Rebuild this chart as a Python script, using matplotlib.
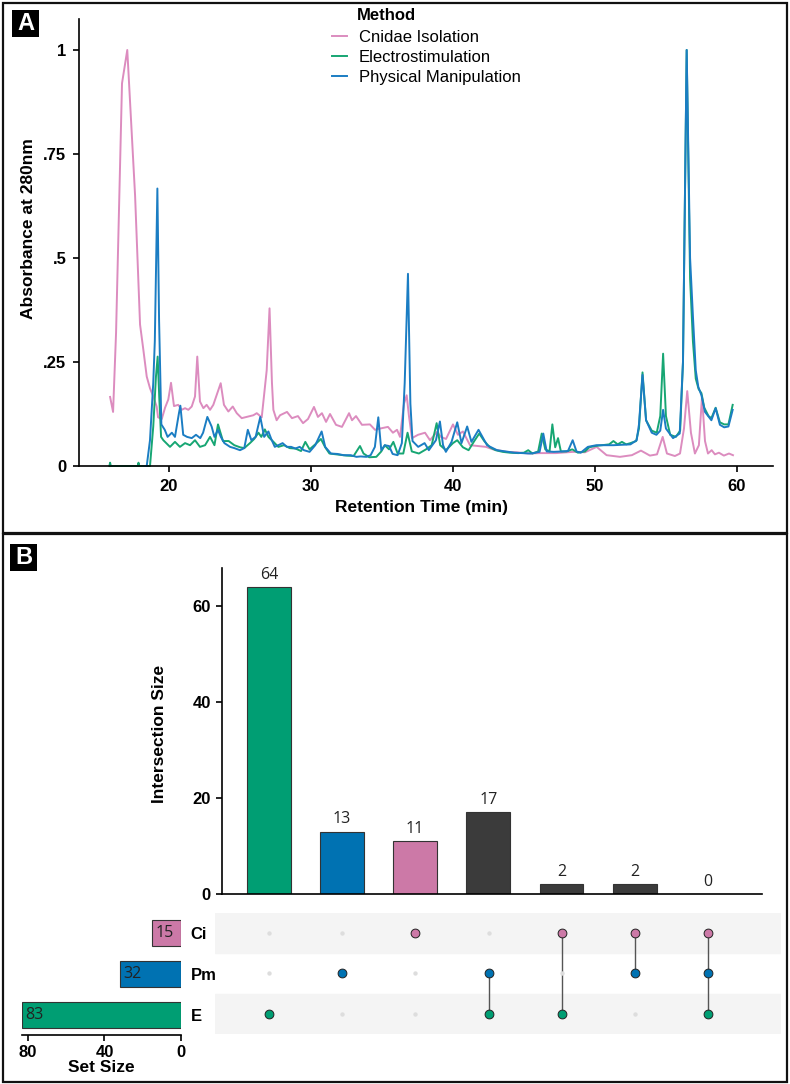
import numpy as np
import matplotlib.pyplot as plt
from matplotlib.patches import Rectangle

plt.rcParams['font.family'] = ['Liberation Sans', 'DejaVu Sans']

# --- Panel A: chromatogram, (retention time, absorbance) ---
ci_t = [15.85, 16.06, 16.27, 16.41, 16.69, 17.06, 17.61, 17.96, 18.19, 18.43, 18.66, 18.89,
        19.13, 19.23, 19.49, 19.72, 19.95, 20.14, 20.35, 20.65, 20.89, 21.13, 21.36, 21.60,
        21.83, 21.99, 22.18, 22.42, 22.65, 22.89, 23.12, 23.40, 23.64, 23.87, 24.18, 24.49,
        24.77, 25.12, 25.47, 25.94, 26.18, 26.53, 26.88, 27.08, 27.25, 27.35, 27.58, 27.82,
        28.31, 28.66, 29.08, 29.44, 29.79, 30.21, 30.49, 30.77, 31.06, 31.34, 31.76, 32.18,
        32.68, 32.89, 33.17, 33.59, 34.15, 34.51, 34.86, 35.42, 35.77, 36.06, 36.27, 36.55,
        36.74, 36.90, 37.11, 37.54, 38.03, 38.38, 38.87, 39.15, 39.51, 40.00, 40.35, 40.70,
        41.20, 41.76, 42.32, 42.82, 43.78, 44.49, 45.28, 46.13, 47.25, 48.45, 49.30, 50.12,
        50.82, 51.76, 52.60, 53.24, 53.87, 54.37, 54.77, 55.07, 55.63, 55.99, 56.27, 56.50,
        56.76, 57.04, 57.32, 57.54, 57.75, 57.96, 58.22, 58.45, 58.73, 59.08, 59.44, 59.72]
ci_a = [0.166, 0.130, 0.320, 0.520, 0.920, 1.000, 0.650, 0.340, 0.280, 0.215, 0.187, 0.167,
        0.143, 0.117, 0.113, 0.140, 0.160, 0.200, 0.144, 0.147, 0.135, 0.139, 0.135, 0.143,
        0.167, 0.263, 0.155, 0.139, 0.147, 0.135, 0.147, 0.175, 0.199, 0.147, 0.131, 0.143,
        0.127, 0.115, 0.118, 0.122, 0.127, 0.117, 0.230, 0.379, 0.200, 0.135, 0.110, 0.122,
        0.130, 0.115, 0.120, 0.103, 0.113, 0.142, 0.118, 0.127, 0.106, 0.125, 0.099, 0.094,
        0.127, 0.110, 0.120, 0.099, 0.100, 0.087, 0.090, 0.094, 0.080, 0.087, 0.070, 0.150,
        0.170, 0.120, 0.067, 0.075, 0.080, 0.062, 0.082, 0.070, 0.065, 0.100, 0.075, 0.083,
        0.050, 0.048, 0.046, 0.040, 0.034, 0.033, 0.030, 0.031, 0.031, 0.034, 0.033, 0.046,
        0.026, 0.022, 0.026, 0.037, 0.025, 0.028, 0.070, 0.030, 0.024, 0.030, 0.090, 0.180,
        0.080, 0.030, 0.050, 0.167, 0.060, 0.030, 0.038, 0.028, 0.032, 0.025, 0.030, 0.026]

e_t = [15.80, 15.85, 15.90, 17.80, 17.85, 17.90, 18.55, 18.66, 18.89, 19.08, 19.20, 19.31,
       19.44, 19.60, 20.07, 20.42, 20.77, 21.13, 21.48, 21.83, 22.18, 22.54, 22.89, 23.20,
       23.45, 23.80, 24.20, 24.60, 25.00, 25.30, 25.70, 26.00, 26.30, 26.50, 26.75, 27.00,
       27.30, 27.70, 28.10, 28.50, 28.90, 29.30, 29.60, 29.90, 30.30, 30.70, 31.00, 31.30,
       31.80, 32.50, 33.00, 33.45, 33.70, 34.10, 34.60, 34.95, 35.20, 35.50, 35.80, 36.10,
       36.50, 36.80, 37.10, 37.60, 38.10, 38.50, 38.85, 39.10, 39.50, 40.00, 40.30, 40.70,
       41.10, 41.50, 41.85, 42.20, 42.60, 43.00, 43.50, 44.00, 44.60, 45.00, 45.30, 45.60,
       46.00, 46.25, 46.50, 46.80, 47.00, 47.20, 47.40, 47.60, 48.00, 48.40, 48.80, 49.30,
       49.60, 50.00, 50.50, 51.00, 51.30, 51.60, 51.90, 52.20, 52.50, 52.90, 53.10, 53.35,
       53.60, 54.00, 54.35, 54.60, 54.80, 55.00, 55.30, 55.70, 56.00, 56.20, 56.46, 56.70,
       56.90, 57.10, 57.30, 57.50, 57.70, 58.00, 58.20, 58.50, 58.80, 59.10, 59.40, 59.70]
e_a = [0.000, 0.008, 0.000, 0.000, 0.008, 0.000, 0.000, 0.000, 0.095, 0.215, 0.263, 0.167,
       0.070, 0.062, 0.046, 0.058, 0.046, 0.055, 0.050, 0.062, 0.046, 0.050, 0.070, 0.050,
       0.100, 0.060, 0.060, 0.050, 0.045, 0.043, 0.055, 0.065, 0.080, 0.070, 0.088, 0.070,
       0.060, 0.046, 0.050, 0.043, 0.042, 0.036, 0.058, 0.040, 0.052, 0.065, 0.045, 0.030,
       0.028, 0.025, 0.024, 0.048, 0.030, 0.021, 0.022, 0.035, 0.050, 0.040, 0.058, 0.030,
       0.030, 0.080, 0.035, 0.030, 0.040, 0.050, 0.103, 0.050, 0.038, 0.055, 0.062, 0.045,
       0.038, 0.060, 0.078, 0.060, 0.045, 0.038, 0.034, 0.032, 0.031, 0.032, 0.038, 0.030,
       0.035, 0.078, 0.040, 0.035, 0.100, 0.045, 0.067, 0.035, 0.035, 0.040, 0.032, 0.035,
       0.045, 0.048, 0.050, 0.052, 0.060, 0.052, 0.058, 0.052, 0.055, 0.060, 0.090, 0.225,
       0.110, 0.085, 0.080, 0.120, 0.270, 0.120, 0.075, 0.070, 0.085, 0.250, 1.000, 0.450,
       0.300, 0.210, 0.185, 0.175, 0.140, 0.120, 0.115, 0.140, 0.105, 0.100, 0.100, 0.147]

pm_t = [18.30, 18.43, 18.66, 18.89, 19.00, 19.18, 19.30, 19.46, 19.70, 19.90, 20.20, 20.42,
        20.70, 20.80, 21.00, 21.27, 21.60, 21.90, 22.20, 22.40, 22.70, 23.00, 23.20, 23.45,
        23.65, 23.90, 24.30, 24.60, 25.00, 25.30, 25.55, 25.80, 26.10, 26.43, 26.70, 27.00,
        27.20, 27.45, 27.70, 28.00, 28.30, 28.60, 28.90, 29.20, 29.50, 29.90, 30.30, 30.75,
        31.00, 31.40, 31.85, 32.30, 32.80, 33.20, 33.50, 33.90, 34.20, 34.50, 34.74, 34.95,
        35.20, 35.50, 35.75, 36.10, 36.40, 36.60, 36.83, 37.00, 37.15, 37.55, 38.00, 38.30,
        38.80, 39.08, 39.30, 39.50, 39.90, 40.30, 40.60, 41.00, 41.30, 41.80, 42.40, 43.10,
        44.30, 45.50, 46.10, 46.36, 46.60, 47.10, 47.70, 48.10, 48.43, 48.70, 49.00, 49.50,
        50.10, 51.30, 52.50, 52.94, 53.10, 53.35, 53.60, 54.00, 54.33, 54.60, 54.80, 55.00,
        55.50, 55.97, 56.20, 56.46, 56.70, 56.90, 57.10, 57.28, 57.50, 57.75, 58.20, 58.50,
        58.80, 59.10, 59.40, 59.70]
pm_a = [0.000, 0.000, 0.062, 0.200, 0.300, 0.667, 0.350, 0.100, 0.087, 0.070, 0.080, 0.070,
        0.127, 0.145, 0.075, 0.070, 0.067, 0.075, 0.067, 0.080, 0.118, 0.095, 0.070, 0.087,
        0.070, 0.055, 0.046, 0.043, 0.038, 0.043, 0.087, 0.062, 0.070, 0.118, 0.070, 0.083,
        0.065, 0.046, 0.050, 0.055, 0.046, 0.046, 0.042, 0.046, 0.038, 0.034, 0.050, 0.083,
        0.046, 0.030, 0.029, 0.026, 0.026, 0.022, 0.023, 0.022, 0.026, 0.046, 0.117, 0.038,
        0.050, 0.048, 0.029, 0.026, 0.055, 0.200, 0.462, 0.150, 0.060, 0.046, 0.055, 0.038,
        0.062, 0.107, 0.050, 0.034, 0.058, 0.105, 0.055, 0.095, 0.058, 0.087, 0.050, 0.038,
        0.032, 0.030, 0.034, 0.078, 0.035, 0.034, 0.035, 0.036, 0.062, 0.035, 0.032, 0.046,
        0.050, 0.050, 0.052, 0.062, 0.100, 0.219, 0.110, 0.080, 0.075, 0.085, 0.135, 0.090,
        0.067, 0.078, 0.250, 1.000, 0.500, 0.360, 0.230, 0.190, 0.170, 0.130, 0.110, 0.139,
        0.099, 0.093, 0.095, 0.135]

methods = ['Cnidae Isolation', 'Electrostimulation', 'Physical Manipulation']
line_colors = ['#DC8CBF', '#17A673', '#1B7DC3']

# --- Panel B: UpSet plot ---
set_names = ['E', 'Pm', 'Ci']          # bottom to top
set_sizes = [83, 32, 15]
set_colors = ['#009E73', '#0072B2', '#CC79A7']
inter_sizes = [64, 13, 11, 17, 2, 2, 0]
inter_sets = [['E'], ['Pm'], ['Ci'], ['Pm', 'E'], ['Ci', 'E'], ['Ci', 'Pm'], ['Ci', 'Pm', 'E']]
multi_color = '#3B3B3B'

W, H = 790, 1084
fig = plt.figure(figsize=(W / 100, H / 100), dpi=100)


def box(l, t, r, b):
    return [l / W, 1 - b / H, (r - l) / W, (b - t) / H]


# ---------------- Panel A ----------------
axA = fig.add_axes(box(79, 19, 773, 466))
for t, a, lab, col in zip([ci_t, e_t, pm_t], [ci_a, e_a, pm_a], methods, line_colors):
    axA.plot(t, a, color=col, lw=1.4, label=lab, clip_on=False)
axA.set_xlim(13.66, 62.54)
axA.set_ylim(0, 1.0745)
axA.spines[['top', 'right']].set_visible(False)
for s in ['left', 'bottom']:
    axA.spines[s].set_linewidth(1.2)
axA.set_xticks([20, 30, 40, 50, 60])
axA.set_yticks([0, 0.25, 0.5, 0.75, 1])
axA.set_yticklabels(['0', '.25', '.5', '.75', '1'])
axA.tick_params(length=4, width=1.2, labelsize=12, pad=5)
for lbl in axA.get_xticklabels() + axA.get_yticklabels():
    lbl.set_fontweight('bold')
axA.set_xlabel('Retention Time (min)', fontsize=12.5, fontweight='bold')
axA.xaxis.set_label_coords(0.494, -0.076)
axA.set_ylabel('Absorbance at 280nm', fontsize=12.5, fontweight='bold')
axA.yaxis.set_label_coords(-0.062, 0.532)
axA.legend(loc='upper left', bbox_to_anchor=(332 / W, 1 - 30 / H),
           bbox_transform=fig.transFigure, frameon=False, fontsize=12,
           handlelength=0.9, handletextpad=0.7,
           labelspacing=0.3, borderpad=0, borderaxespad=0)
fig.text(357 / W, 1 - 16 / H, 'Method', fontsize=12, fontweight='bold', ha='left', va='center')

# ---------------- Panel B ----------------
x = np.arange(len(inter_sizes))
bar_cols = []
for s in inter_sets:
    bar_cols.append(set_colors[set_names.index(s[0])] if len(s) == 1 else multi_color)

axB = fig.add_axes(box(222, 568, 762, 894))
axB.bar(x, inter_sizes, width=0.6, color=bar_cols, edgecolor='#333333', lw=0.8)
for xi, v in zip(x, inter_sizes):
    axB.annotate(str(v), (xi, v), xytext=(0, 3), textcoords='offset points',
                 ha='center', va='bottom', fontsize=11.5, family='Open Sans', color='#222222')
axB.set_xlim(-0.64, 6.74)
axB.set_ylim(0, 67.9)
axB.spines[['top', 'right']].set_visible(False)
for s in ['left', 'bottom']:
    axB.spines[s].set_linewidth(1.2)
axB.set_xticks([])
axB.set_yticks([0, 20, 40, 60])
axB.tick_params(axis='y', length=4, width=1.2, labelsize=12, pad=4)
for lbl in axB.get_yticklabels():
    lbl.set_fontweight('bold')
axB.set_ylabel('Intersection Size', fontsize=12.5, fontweight='bold')
axB.yaxis.set_label_coords(-0.102, 0.49)

# matrix
axM = fig.add_axes(box(215, 913, 781, 1034))
axM.set_xlim(-0.738, 6.997)
axM.set_ylim(-0.5, 2.5)
axM.axis('off')
for r in range(len(set_names)):
    if r % 2 == 0:
        axM.axhspan(r - 0.5, r + 0.5, color='#F4F4F4', zorder=0)
for xi, s in zip(x, inter_sets):
    rows = [set_names.index(n) for n in s]
    if len(rows) > 1:
        axM.plot([xi, xi], [min(rows), max(rows)], color='#555555', lw=1, zorder=1)
    for r, n in enumerate(set_names):
        if n in s:
            axM.scatter(xi, r, s=40, color=set_colors[r], edgecolor='#222222', lw=0.7, zorder=3)
        else:
            axM.scatter(xi, r, s=10, color='#DDDDDD', lw=0, zorder=2)

# set sizes
axS = fig.add_axes(box(22, 913, 181, 1035))
axS.barh(range(len(set_names)), set_sizes, height=0.64, color=set_colors,
         edgecolor='#333333', lw=0.8)
for r, v in enumerate(set_sizes):
    axS.annotate(str(v), (v, r), xytext=(2.5, 0), textcoords='offset points',
                 ha='left', va='center', fontsize=11.5, family='Open Sans', color='#222222')
axS.set_xlim(83.1, 0)
axS.set_ylim(-0.5, 2.5)
axS.spines[['top', 'left', 'right']].set_visible(False)
axS.spines['bottom'].set_linewidth(1.2)
axS.set_xticks([80, 40, 0])
axS.tick_params(axis='x', length=4, width=1.2, labelsize=12, pad=3)
for lbl in axS.get_xticklabels():
    lbl.set_fontweight('bold')
axS.yaxis.tick_right()
axS.set_yticks(range(len(set_names)))
axS.set_yticklabels(set_names, fontsize=12, fontweight='bold')
axS.tick_params(axis='y', length=0, pad=7)
axS.set_xlabel('Set Size', fontsize=12.5, fontweight='bold', labelpad=0)

# panel frames and letters
for (l, t, r, b) in [(3, 3, 787, 533), (3, 534, 787, 1082)]:
    fig.add_artist(Rectangle((l / W, 1 - b / H), (r - l) / W, (b - t) / H, fill=False,
                             lw=1.6, ec='#111111', transform=fig.transFigure))
for letter, (l, t) in [('A', (12, 10)), ('B', (10, 544))]:
    fig.add_artist(Rectangle((l / W, 1 - (t + 27) / H), 27 / W, 27 / H, fc='black',
                             ec='none', transform=fig.transFigure))
    fig.text((l + 13.5) / W, 1 - (t + 13.5) / H, letter, color='white', fontsize=17,
             fontweight='bold', ha='center', va='center')

fig.savefig('out.png', dpi=100)
